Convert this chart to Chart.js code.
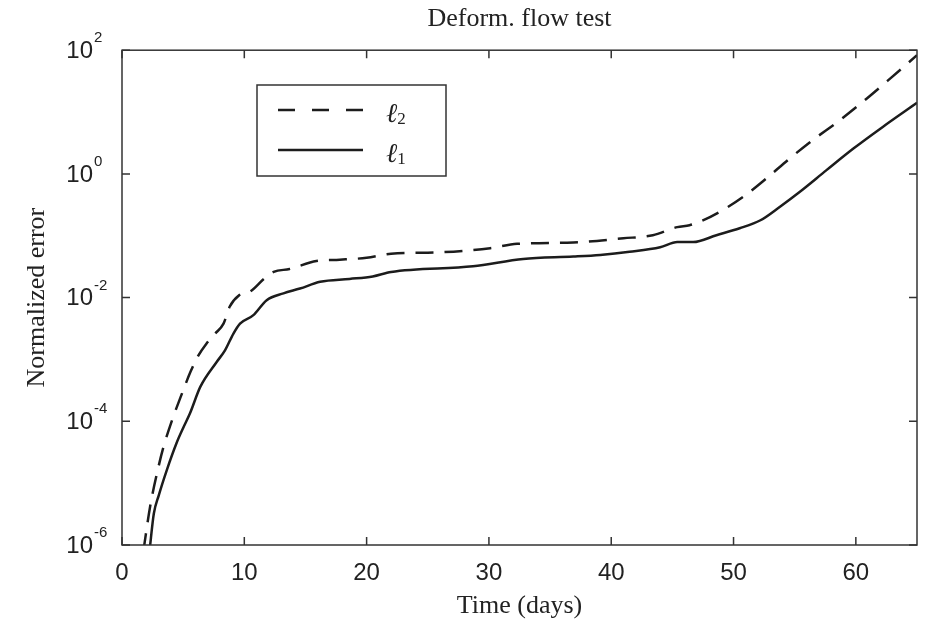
<!DOCTYPE html>
<html>
<head>
<meta charset="utf-8">
<script src="https://cdn.jsdelivr.net/npm/chart.js@4.4.1/dist/chart.umd.min.js"></script>
<style>
  html, body { margin: 0; padding: 0; background: #fff; }
  #wrap { width: 927px; height: 622px; }
</style>
</head>
<body>
<div id="wrap"><canvas id="errChart" width="927" height="622"></canvas></div>
<script>
// l2 error (dashed)
const l2Days = [1.75, 2.3, 3.0, 3.4, 4.1, 4.9, 5.6, 6.2, 6.9, 7.6, 8.3, 8.8, 9.6, 10.5, 11.6, 12.4, 13.7, 15.9, 17.8, 20.0,
  22.0, 26.0, 30.1, 32.3, 36.9, 41.0, 43.4, 45.4, 46.4, 47.3, 48.9, 50.8, 52.7, 54.6, 56.5, 58.7, 60.9, 62.8, 65.0];
const l2Error = [8e-7, 4.2e-6, 1.9e-5, 3.9e-5, 1.05e-4, 2.8e-4, 6.3e-4, 1.12e-3, 1.8e-3, 2.6e-3, 3.8e-3, 7.1e-3, 1.1e-2, 1.26e-2, 2.0e-2, 2.6e-2, 2.9e-2, 3.9e-2, 4.1e-2, 4.4e-2,
  5.1e-2, 5.4e-2, 6.3e-2, 7.4e-2, 7.8e-2, 9.1e-2, 0.102, 0.138, 0.148, 0.17, 0.245, 0.427, 0.85, 1.78, 3.55, 7.4, 16.6, 34.7, 83];

// l1 error (solid)
const l1Days = [2.25, 2.6, 3.0, 3.65, 4.47, 5.0, 5.56, 6.4, 7.74, 8.42, 9.1, 9.65, 10.74, 11.83, 13.2, 14.55, 16.2, 18.6, 20.5, 22.0,
  28.7, 32.8, 36.9, 39.1, 41.5, 44.0, 45.4, 46.7, 48.6, 50.5, 52.2, 53.8, 55.4, 57.6, 59.8, 62.2, 65.0];
const l1Error = [8e-7, 3.2e-6, 6.3e-6, 1.6e-5, 4.5e-5, 7.8e-5, 1.35e-4, 3.6e-4, 9.1e-4, 1.4e-3, 2.6e-3, 3.8e-3, 5.2e-3, 9.1e-3, 1.17e-2, 1.4e-2, 1.8e-2, 2.0e-2, 2.2e-2, 2.6e-2,
  3.2e-2, 4.2e-2, 4.6e-2, 4.9e-2, 5.5e-2, 6.5e-2, 7.9e-2, 7.9e-2, 0.102, 0.132, 0.178, 0.295, 0.51, 1.15, 2.57, 5.75, 14.1];

const xTicks = [0, 10, 20, 30, 40, 50, 60];
const yTickExps = [-6, -4, -2, 0, 2];

const lineColor = '#1c1c1c';
const axisColor = '#333';
const serif = '"Liberation Serif", "Times New Roman", serif';
const sans = '"Liberation Sans", Arial, sans-serif';

function toPoints(days, vals) {
  return days.map((d, i) => ({ x: d, y: vals[i] }));
}

// box, inward ticks, 10^n labels and the legend
const framePlugin = {
  id: 'frame',
  afterDatasetsDraw(chart) {
    const { ctx, chartArea: a, scales: { x, y } } = chart;
    ctx.save();
    ctx.strokeStyle = axisColor;
    ctx.lineWidth = 1.5;
    ctx.strokeRect(a.left, a.top, a.right - a.left, a.bottom - a.top);
    ctx.beginPath();
    xTicks.forEach(v => {
      const px = x.getPixelForValue(v);
      ctx.moveTo(px, a.bottom); ctx.lineTo(px, a.bottom - 8);
      ctx.moveTo(px, a.top); ctx.lineTo(px, a.top + 8);
    });
    yTickExps.forEach(e => {
      const py = y.getPixelForValue(Math.pow(10, e));
      ctx.moveTo(a.left, py); ctx.lineTo(a.left + 8, py);
      ctx.moveTo(a.right, py); ctx.lineTo(a.right - 8, py);
    });
    ctx.stroke();

    ctx.fillStyle = '#222';
    ctx.textBaseline = 'middle';
    yTickExps.forEach(e => {
      const py = y.getPixelForValue(Math.pow(10, e));
      ctx.font = '24px ' + sans;
      ctx.textAlign = 'right';
      ctx.fillText('10', a.left - 29, py + 1);
      ctx.font = '15px ' + sans;
      ctx.textAlign = 'left';
      ctx.fillText(String(e), a.left - 28, py - 12);
    });

    // legend
    ctx.lineWidth = 1.5;
    ctx.strokeStyle = axisColor;
    ctx.strokeRect(257, 85, 189, 91);
    chart.data.datasets.forEach((ds, i) => {
      const ly = 110 + i * 40;
      ctx.beginPath();
      ctx.setLineDash(ds.borderDash && ds.borderDash.length ? [17, 17] : []);
      ctx.strokeStyle = ds.borderColor;
      ctx.lineWidth = ds.borderWidth;
      ctx.moveTo(278, ly);
      ctx.lineTo(363, ly);
      ctx.stroke();
      ctx.setLineDash([]);
      ctx.fillStyle = '#222';
      ctx.textBaseline = 'alphabetic';
      ctx.textAlign = 'left';
      ctx.font = 'italic 27px ' + serif;
      ctx.fillText(ds.label.charAt(0), 386, ly + 12);
      const w = ctx.measureText(ds.label.charAt(0)).width;
      ctx.font = '17px ' + serif;
      ctx.fillText(ds.label.slice(1), 386 + w, ly + 14);
    });
    ctx.restore();
  }
};

new Chart(document.getElementById('errChart'), {
  type: 'line',
  data: {
    datasets: [
      {
        label: 'ℓ2',
        data: toPoints(l2Days, l2Error),
        borderColor: lineColor,
        borderWidth: 2.5,
        borderDash: [18, 11],
        pointRadius: 0,
        cubicInterpolationMode: 'monotone',
        fill: false
      },
      {
        label: 'ℓ1',
        data: toPoints(l1Days, l1Error),
        borderColor: lineColor,
        borderWidth: 2.5,
        pointRadius: 0,
        cubicInterpolationMode: 'monotone',
        fill: false
      }
    ]
  },
  options: {
    responsive: false,
    animation: false,
    layout: { padding: { top: 0, right: 10, left: 0, bottom: 0 } },
    plugins: {
      legend: { display: false },
      tooltip: { enabled: false },
      title: {
        display: true,
        text: 'Deform. flow test',
        fullSize: false,
        color: '#222',
        font: { family: serif, size: 26, weight: 'normal' },
        padding: { top: 4, bottom: 15 }
      }
    },
    scales: {
      x: {
        type: 'linear',
        min: 0,
        max: 65,
        grid: { display: false, drawTicks: false },
        border: { display: false },
        afterBuildTicks: scale => { scale.ticks = xTicks.map(v => ({ value: v })); },
        afterFit: scale => { scale.height = 77; },
        ticks: {
          color: '#222',
          padding: 14,
          maxRotation: 0,
          font: { family: sans, size: 24 }
        },
        title: {
          display: true,
          text: 'Time (days)',
          color: '#222',
          font: { family: serif, size: 26, weight: 'normal' },
          padding: { top: 0, bottom: 0 }
        }
      },
      y: {
        type: 'logarithmic',
        min: 1e-6,
        max: 1e2,
        grid: { display: false, drawTicks: false },
        border: { display: false },
        afterBuildTicks: scale => { scale.ticks = yTickExps.map(e => ({ value: Math.pow(10, e) })); },
        afterFit: scale => { scale.width = 122; },
        ticks: { display: false },
        title: {
          display: true,
          text: 'Normalized error',
          color: '#222',
          font: { family: serif, size: 26, weight: 'normal' },
          padding: { top: 22, bottom: 0 }
        }
      }
    }
  },
  plugins: [framePlugin]
});
</script>
</body>
</html>
